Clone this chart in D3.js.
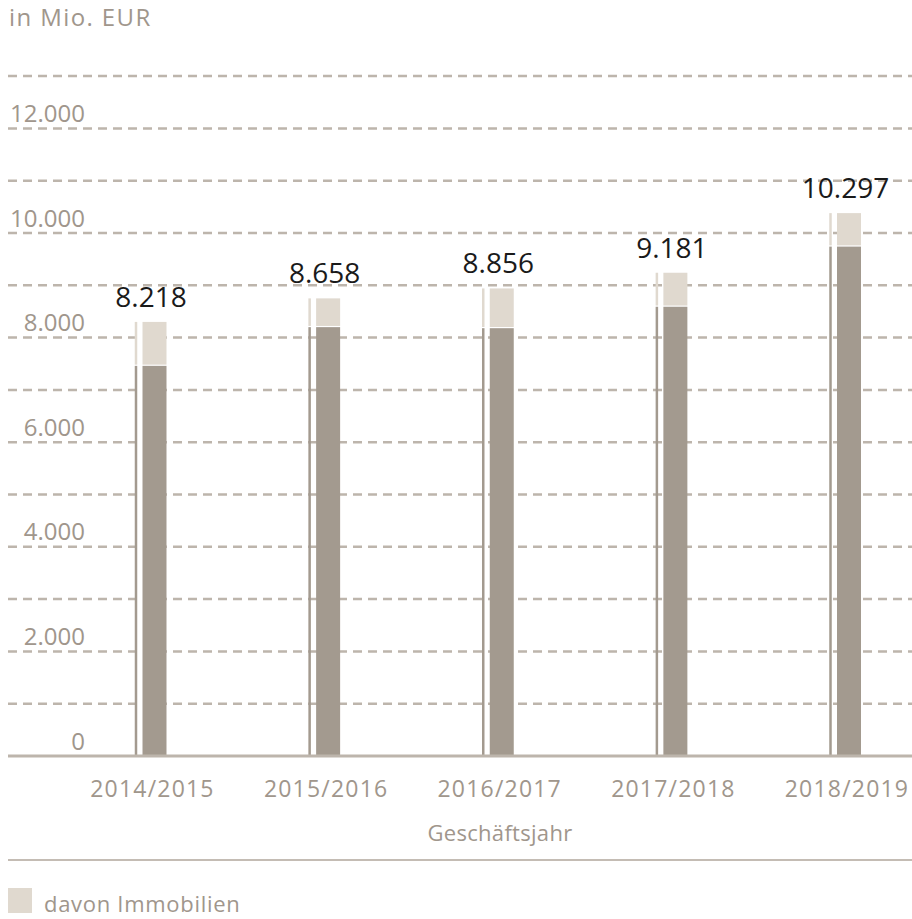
<!DOCTYPE html>
<html>
<head>
<meta charset="utf-8">
<script src="https://cdn.jsdelivr.net/npm/d3@7"></script>
<style>
  body { margin: 0; background: #fff; }
  text { font-family: "Open Sans", sans-serif; }
</style>
</head>
<body>
<svg id="chart" width="912" height="919"></svg>
<script>
const years = ["2014/2015", "2015/2016", "2016/2017", "2017/2018", "2018/2019"];
// remaining part (dark) and "davon Immobilien" part (light), in Mio. EUR
const uebrige = [7460, 8200, 8180, 8590, 9740];
const immobilien = [840, 550, 760, 650, 640];
const totalLabels = ["8.218", "8.658", "8.856", "9.181", "10.297"];
const yTicks = [0, 2000, 4000, 6000, 8000, 10000, 12000];
const gridTicks = d3.range(1000, 13001, 1000);

const DARK = "#a39a8f";
const LIGHT = "#e0d9cf";
const GREY_TEXT = "#a0968c";
const GRID = "#bdb5ac";

const BASE_Y = 756;
const BAR_W = 24;
const THIN_W = 2.5;
const THIN_OFFSET = 18.5; // thin line sits left of the bar

const svg = d3.select("#chart");

const y = d3.scaleLinear().domain([0, 13000]).range([BASE_Y, BASE_Y - 13 * 52.3]);
const x = d3.scalePoint().domain(years).range([154.5, 849]);

// unit label
svg.append("text")
  .attr("x", 9).attr("y", 26)
  .attr("font-size", 24).attr("letter-spacing", 1.4)
  .attr("fill", GREY_TEXT)
  .text("in Mio. EUR");

// dashed grid
svg.append("g")
  .selectAll("line")
  .data(gridTicks)
  .join("line")
  .attr("x1", 8).attr("x2", 912)
  .attr("y1", (d) => y(d)).attr("y2", (d) => y(d))
  .attr("stroke", GRID)
  .attr("stroke-width", 2.5)
  .attr("stroke-dasharray", "9 6");

// y tick labels
svg.append("g")
  .selectAll("text")
  .data(yTicks)
  .join("text")
  .attr("x", 85)
  .attr("y", (d) => y(d) - 6.5)
  .attr("text-anchor", "end")
  .attr("font-size", 24)
  .attr("fill", GREY_TEXT)
  .text((d) => (d === 0 ? "0" : d3.format(",")(d).replace(/,/g, ".")));

const stacked = years.map((yr, i) => ({
  year: yr,
  dark: uebrige[i],
  light: immobilien[i],
  label: totalLabels[i],
}));

const bars = svg.append("g");

// thin lines and bars, dark and light parts
[[-THIN_OFFSET - THIN_W / 2, THIN_W], [-BAR_W / 2, BAR_W]].forEach(([dx, w]) => {
  bars.append("g")
    .selectAll("rect")
    .data(stacked)
    .join("rect")
    .attr("x", (d) => x(d.year) + dx)
    .attr("width", w)
    .attr("y", (d) => y(d.dark))
    .attr("height", (d) => y(0) - y(d.dark))
    .attr("fill", DARK);

  bars.append("g")
    .selectAll("rect")
    .data(stacked)
    .join("rect")
    .attr("x", (d) => x(d.year) + dx)
    .attr("width", w)
    .attr("y", (d) => y(d.dark + d.light))
    .attr("height", (d) => y(d.dark) - y(d.dark + d.light) - 1.2)
    .attr("fill", LIGHT);
});

// baseline
svg.append("line")
  .attr("x1", 8).attr("x2", 912)
  .attr("y1", BASE_Y).attr("y2", BASE_Y)
  .attr("stroke", GRID)
  .attr("stroke-width", 3);

// total labels
svg.append("g")
  .selectAll("text")
  .data(stacked)
  .join("text")
  .attr("x", (d) => x(d.year) - 3.5)
  .attr("y", (d) => y(d.dark + d.light) - 15)
  .attr("text-anchor", "middle")
  .attr("font-size", 28)
  .attr("fill", "#1a1a1a")
  .text((d) => d.label);

// x axis labels
svg.append("g")
  .selectAll("text")
  .data(years)
  .join("text")
  .attr("x", (d) => x(d) - 2)
  .attr("y", 797)
  .attr("text-anchor", "middle")
  .attr("font-size", 23)
  .attr("letter-spacing", 1.2)
  .attr("fill", GREY_TEXT)
  .text((d) => d);

svg.append("text")
  .attr("x", 500).attr("y", 841)
  .attr("text-anchor", "middle")
  .attr("font-size", 22)
  .attr("letter-spacing", 0.3)
  .attr("fill", GREY_TEXT)
  .text("Geschäftsjahr");

// separator
svg.append("line")
  .attr("x1", 8).attr("x2", 912)
  .attr("y1", 860).attr("y2", 860)
  .attr("stroke", "#c4bcb4")
  .attr("stroke-width", 2);

// legend
svg.append("rect")
  .attr("x", 8).attr("y", 888)
  .attr("width", 24).attr("height", 25)
  .attr("fill", LIGHT);

svg.append("text")
  .attr("x", 44).attr("y", 912)
  .attr("font-size", 22)
  .attr("letter-spacing", 0.7)
  .attr("fill", GREY_TEXT)
  .text("davon Immobilien");
</script>
</body>
</html>
